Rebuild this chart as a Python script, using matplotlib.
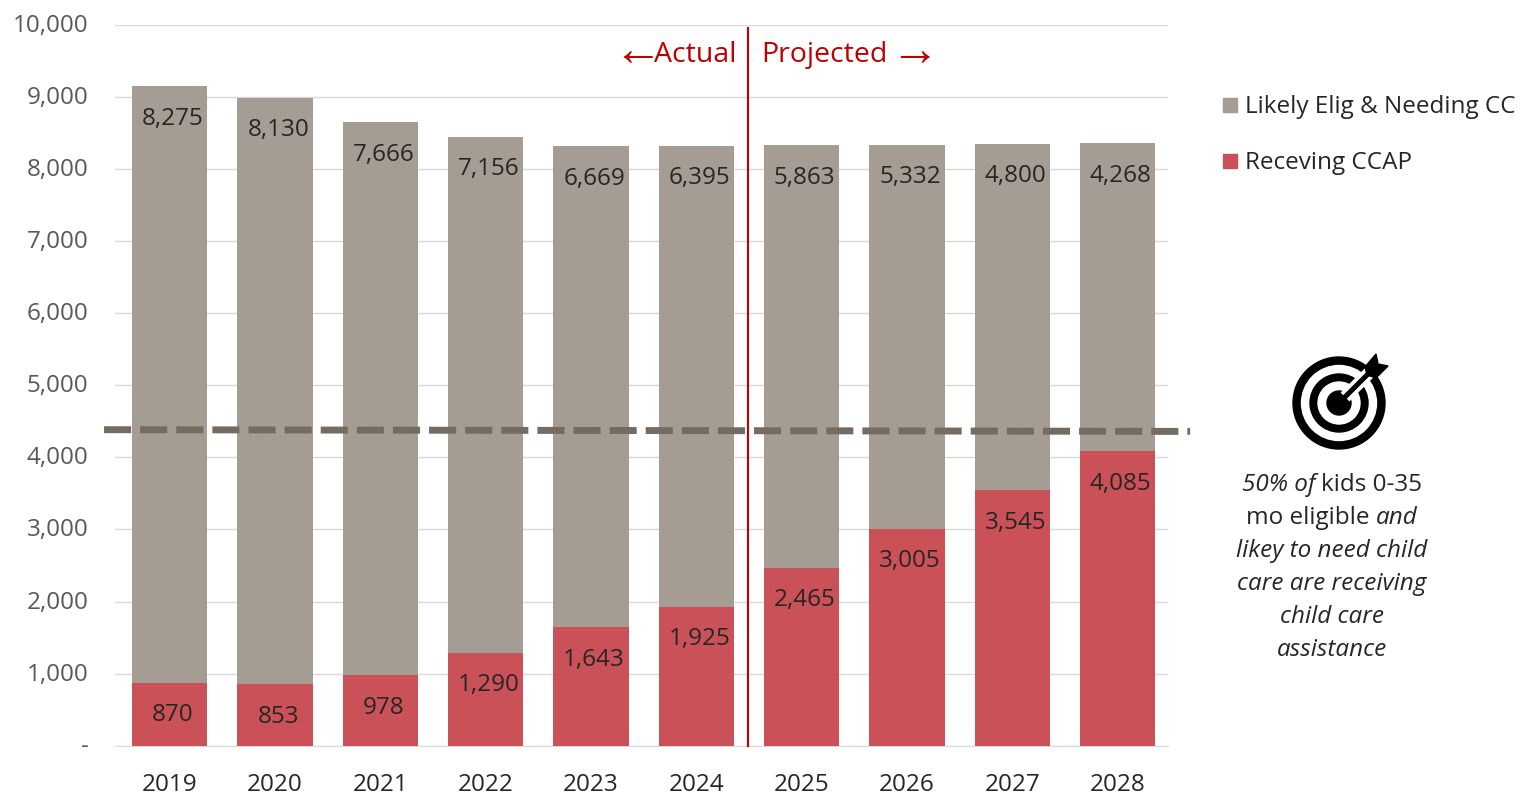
import matplotlib
matplotlib.use("Agg")
import matplotlib.pyplot as plt
from matplotlib.patches import Circle, Polygon
from matplotlib.transforms import ScaledTranslation

years = ["2019", "2020", "2021", "2022", "2023", "2024", "2025", "2026", "2027", "2028"]
receiving = [870, 853, 978, 1290, 1643, 1925, 2465, 3005, 3545, 4085]
needing = [8275, 8130, 7666, 7156, 6669, 6395, 5863, 5332, 4800, 4268]
target = [4383, 4359]

W, H = 1524, 796
GRAY = "#A59C94"
RED = "#CB5158"
DARK_RED = "#C00000"
TEXT = "#262626"
AXIS_TEXT = "#595959"
FS = 17.5

plt.rcParams["font.family"] = ["Open Sans", "DejaVu Sans"]

fig = plt.figure(figsize=(W / 100, H / 100), dpi=100)
ax = fig.add_axes([115 / W, 1 - 745.7 / H, (1168 - 115) / W, (745 - 24) / H])

x = list(range(len(years)))
ax.bar(x, receiving, width=0.715, color=RED, zorder=3)
ax.bar(x, needing, width=0.715, bottom=receiving, color=GRAY, zorder=3)

# labels sit near the top of each segment
for i in x:
    ax.text(i + 0.03, receiving[i] - 450, f"{receiving[i]:,}", ha="center", va="center",
            fontsize=FS, color=TEXT, zorder=5)
    ax.text(i + 0.03, receiving[i] + needing[i] - 450, f"{needing[i]:,}", ha="center", va="center",
            fontsize=FS, color=TEXT, zorder=5)

ax.set_xlim(-0.52, 9.48)
ax.set_ylim(0, 10000)
ax.set_yticks(range(0, 11000, 1000))
ax.set_yticklabels(["-"] + [f"{v:,}" for v in range(1000, 11000, 1000)])
ax.set_xticks(x)
ax.set_xticklabels(years)
ax.tick_params(axis="both", length=0, labelsize=FS, labelcolor=AXIS_TEXT)
ax.tick_params(axis="x", pad=20, labelcolor=TEXT)
ax.tick_params(axis="y", pad=19)
up = ScaledTranslation(0, 2 / 100, fig.dpi_scale_trans)
for label in ax.get_yticklabels():
    label.set_transform(label.get_transform() + up)
ax.grid(axis="y", color="#D9D9D9", linewidth=1, zorder=0)
ax.set_axisbelow(True)
for s in ["top", "right", "left"]:
    ax.spines[s].set_visible(False)
ax.spines["bottom"].set_color("#D9D9D9")

# dashed target line runs past the plot on both sides
ax.plot([-0.624, 9.69], target, color="#766B60", linewidth=5,
        dashes=(3.9, 1.3), clip_on=False, zorder=4)

# actual / projected divider
ax.plot([5.49, 5.49], [0, 9950], color=DARK_RED, linewidth=1.5, clip_on=False, zorder=6)
fig.text(737 / W, 1 - 55 / H, "Actual", ha="right", va="center", fontsize=20.5, color=DARK_RED)
fig.text(761 / W, 1 - 55 / H, "Projected", ha="left", va="center", fontsize=20.5, color=DARK_RED)
fig.text(637 / W, 1 - 53 / H, "\u2190", ha="center", va="center", fontsize=35, color=DARK_RED,
         family="Liberation Sans")
fig.text(914 / W, 1 - 53 / H, "\u2192", ha="center", va="center", fontsize=35, color=DARK_RED,
         family="Liberation Sans")

# legend
fig.patches.append(plt.Rectangle((1223 / W, 1 - 112 / H), 14 / W, 14 / H, color=GRAY,
                                 transform=fig.transFigure))
fig.patches.append(plt.Rectangle((1223 / W, 1 - 168 / H), 14 / W, 14 / H, color=RED,
                                 transform=fig.transFigure))
fig.text(1245 / W, 1 - 107 / H, "Likely Elig & Needing CC", va="center", fontsize=FS, color=TEXT)
fig.text(1245 / W, 1 - 163 / H, "Receving CCAP", va="center", fontsize=FS, color=TEXT)

# target icon, drawn in pixel coordinates
icon = fig.add_axes([0, 0, 1, 1], facecolor="none")
icon.set_xlim(0, W)
icon.set_ylim(H, 0)
icon.axis("off")
for r, c in [(46, "black"), (37.5, "white"), (29, "black"), (21, "white"), (12, "black")]:
    icon.add_patch(Circle((1339, 403), r, color=c))
icon.plot([1345, 1384], [397, 358], color="white", linewidth=9, solid_capstyle="butt", zorder=3)
icon.plot([1339, 1369], [403, 373], color="black", linewidth=3.6, solid_capstyle="butt", zorder=4)
icon.add_patch(Polygon([(1365, 367), (1376, 354), (1378, 364), (1388, 366), (1376, 378), (1367, 375)],
                       color="black", zorder=4))

# note under the icon: italic and upright words mixed
note_lines = [
    [("50% of ", "italic"), ("kids 0-35", "normal")],
    [("mo eligible ", "normal"), ("and", "italic")],
    [("likey to need child", "italic")],
    [("care are receiving", "italic")],
    [("child care", "italic")],
    [("assistance", "italic")],
]
note_y = [485, 518, 551, 584, 617, 650]
fig.canvas.draw()
renderer = fig.canvas.get_renderer()
for parts, y in zip(note_lines, note_y):
    pieces = [icon.text(0, y, s, style=st, fontsize=FS, color=TEXT, va="center", ha="left")
              for s, st in parts]
    widths = [p.get_window_extent(renderer).width for p in pieces]
    left = 1332 - sum(widths) / 2
    for p, w in zip(pieces, widths):
        p.set_x(left)
        left += w

fig.savefig("out.png", dpi=100)
